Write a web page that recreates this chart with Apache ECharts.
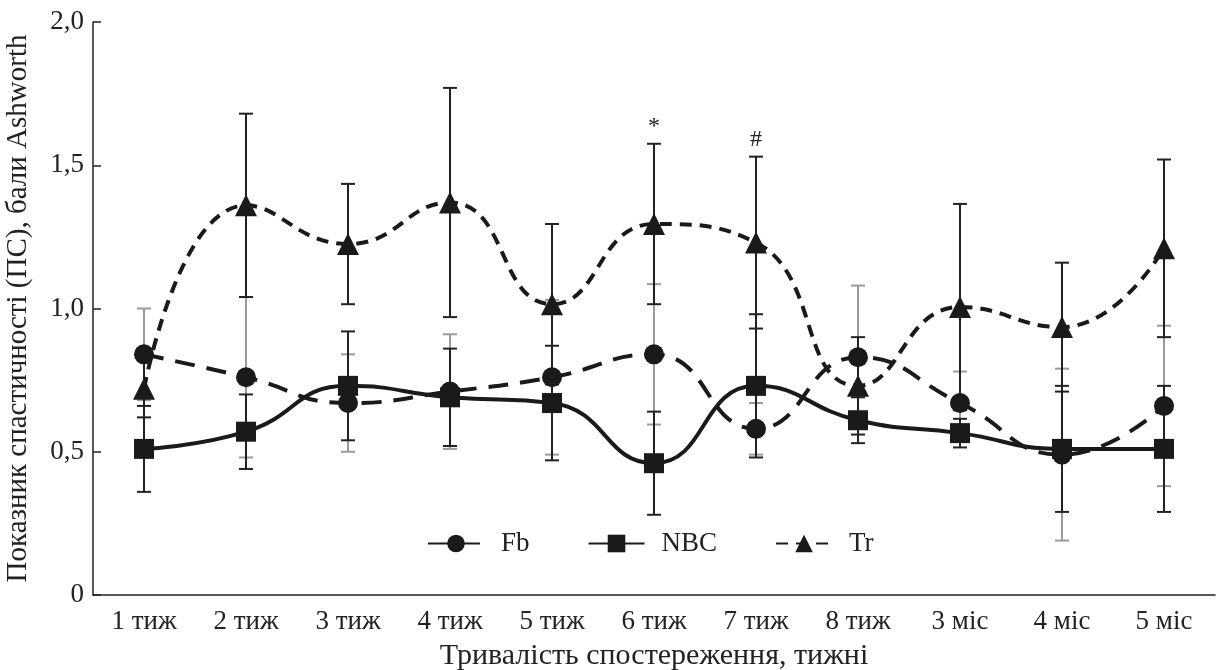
<!DOCTYPE html>
<html>
<head>
<meta charset="utf-8">
<script src="https://cdn.jsdelivr.net/npm/echarts@6/dist/echarts.min.js"></script>
<style>
  html, body { margin: 0; padding: 0; background: #fff; }
  #main { width: 1218px; height: 670px; }
</style>
</head>
<body>
<div id="main"></div>
<script>
var categories = ['1 тиж', '2 тиж', '3 тиж', '4 тиж', '5 тиж', '6 тиж', '7 тиж', '8 тиж', '3 міс', '4 міс', '5 міс'];
var yTickLabels = ['0', '0,5', '1,0', '1,5', '2,0'];

// means and SD (error bars)
var fbMean  = [0.84, 0.76, 0.67, 0.71, 0.76, 0.84, 0.58, 0.83, 0.67, 0.49, 0.66];
var fbSd    = [0.16, 0.28, 0.17, 0.20, 0.27, 0.245, 0.09, 0.25, 0.11, 0.30, 0.28];
var nbcMean = [0.51, 0.57, 0.73, 0.69, 0.67, 0.46, 0.73, 0.61, 0.565, 0.51, 0.51];
var nbcSd   = [0.15, 0.13, 0.19, 0.17, 0.20, 0.18, 0.25, 0.08, 0.05, 0.22, 0.22];
var trMean  = [0.72, 1.36, 1.225, 1.37, 1.015, 1.295, 1.23, 0.73, 1.005, 0.935, 1.21];
var trSd    = [0.10, 0.32, 0.21, 0.40, 0.28, 0.28, 0.30, 0.17, 0.36, 0.225, 0.31];

var notes = [
  { cat: '6 тиж', text: '*' },
  { cat: '7 тиж', text: '#' }
];

var font = "'Liberation Serif', 'Times New Roman', serif";

function errData(mean, sd) {
  return mean.map(function (m, i) { return [i, m - sd[i], m + sd[i]]; });
}

function errSeries(name, mean, sd, color, z) {
  return {
    name: name + ' sd',
    type: 'custom',
    z: z,
    silent: true,
    data: errData(mean, sd),
    renderItem: function (params, api) {
      var i = api.value(0);
      var lo = api.coord([i, api.value(1)]);
      var hi = api.coord([i, api.value(2)]);
      var w = 7;
      var st = { stroke: color, lineWidth: 2 };
      return {
        type: 'group',
        children: [
          { type: 'line', shape: { x1: hi[0], y1: hi[1], x2: lo[0], y2: lo[1] }, style: st },
          { type: 'line', shape: { x1: hi[0] - w, y1: hi[1], x2: hi[0] + w, y2: hi[1] }, style: st },
          { type: 'line', shape: { x1: lo[0] - w, y1: lo[1], x2: lo[0] + w, y2: lo[1] }, style: st }
        ]
      };
    }
  };
}

var myChart = echarts.init(document.getElementById('main'));

myChart.setOption({
  animation: false,
  textStyle: { fontFamily: font, color: '#222' },
  grid: { left: 93, right: 3, top: 22, bottom: 75, outerBoundsMode: 'none', containLabel: false },
  legend: {
    data: ['Fb', 'NBC', 'Tr'],
    left: 422,
    top: 525,
    itemWidth: 56,
    itemHeight: 22,
    itemGap: 58,
    textStyle: { fontFamily: font, fontSize: 27, color: '#222', padding: [0, 0, 0, 12] }
  },
  xAxis: {
    type: 'category',
    data: categories,
    boundaryGap: true,
    name: 'Тривалість спостереження, тижні',
    nameLocation: 'middle',
    nameGap: 46,
    nameTextStyle: { fontFamily: font, fontSize: 30, color: '#222' },
    axisLine: { lineStyle: { color: '#222', width: 1.5 } },
    axisTick: { inside: true, length: 8, lineStyle: { color: '#222', width: 1.5 } },
    axisLabel: { fontFamily: font, fontSize: 27, color: '#222', margin: 13 }
  },
  yAxis: {
    type: 'value',
    min: 0,
    max: 2,
    interval: 0.5,
    name: 'Показник спастичності (ПС), бали Ashworth',
    nameLocation: 'middle',
    nameGap: 60,
    nameTextStyle: { fontFamily: font, fontSize: 29, color: '#222' },
    splitLine: { show: false },
    axisLine: { show: true, lineStyle: { color: '#222', width: 1.5 } },
    axisTick: { show: true, inside: true, length: 8, lineStyle: { color: '#222', width: 1.5 } },
    axisLabel: {
      fontFamily: font, fontSize: 27, color: '#222', margin: 9,
      formatter: function (v) { return yTickLabels[Math.round(v / 0.5)]; }
    }
  },
  series: [
    errSeries('Fb', fbMean, fbSd, '#9a9a9a', 1),
    errSeries('NBC', nbcMean, nbcSd, '#222', 2),
    errSeries('Tr', trMean, trSd, '#222', 2),
    {
      name: 'Fb',
      type: 'line',
      z: 3,
      data: fbMean,
      smooth: 0.5,
      symbol: 'circle',
      symbolSize: 20,
      itemStyle: { color: '#1a1a1a' },
      lineStyle: { color: '#1a1a1a', width: 4, type: [20, 12] }
    },
    {
      name: 'NBC',
      type: 'line',
      z: 3,
      data: nbcMean,
      smooth: 0.5,
      symbol: 'rect',
      symbolSize: 20,
      itemStyle: { color: '#1a1a1a' },
      lineStyle: { color: '#1a1a1a', width: 4, type: 'solid' }
    },
    {
      name: 'Tr',
      type: 'line',
      z: 3,
      data: trMean,
      smooth: 0.5,
      symbol: 'triangle',
      symbolSize: 22,
      itemStyle: { color: '#1a1a1a' },
      lineStyle: { color: '#1a1a1a', width: 4, type: [12, 8] },
      markPoint: {
        symbol: 'circle',
        symbolSize: 0,
        label: {
          show: true,
          position: 'top',
          distance: 5,
          fontFamily: font,
          fontSize: 24,
          color: '#222',
          formatter: function (p) { return p.data.value; }
        },
        data: notes.map(function (n) {
          var i = categories.indexOf(n.cat);
          return { coord: [n.cat, trMean[i] + trSd[i]], value: n.text };
        })
      }
    }
  ]
});
</script>
</body>
</html>
